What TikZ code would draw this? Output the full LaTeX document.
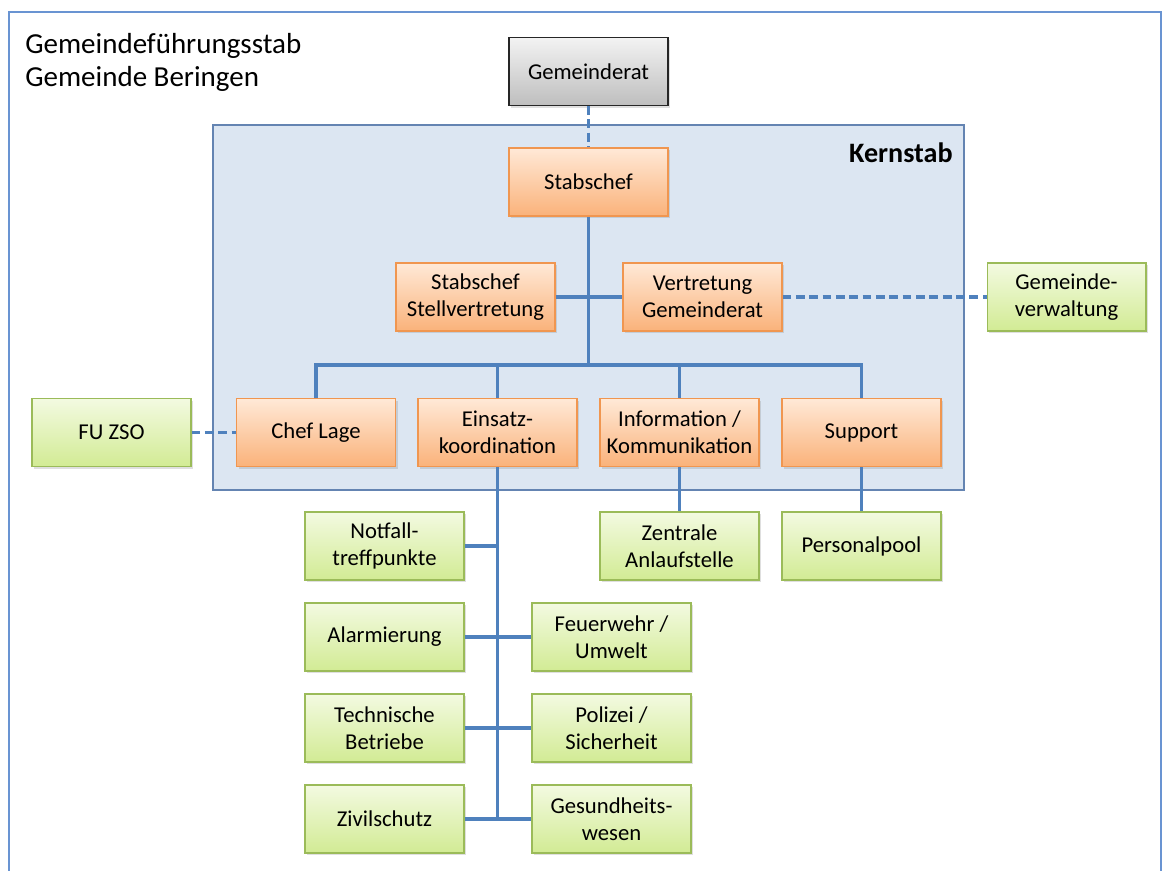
\documentclass[tikz,border=0pt]{standalone}
\usepackage{fontspec}
\setmainfont{Carlito}
\usepackage{xcolor}
\usetikzlibrary{shadows, positioning}

\definecolor{orangeTop}{RGB}{255,233,215}
\definecolor{orangeBot}{RGB}{250,178,122}
\definecolor{orangeLine}{RGB}{240,150,80}
\definecolor{greenTop}{RGB}{243,250,225}
\definecolor{greenBot}{RGB}{210,235,148}
\definecolor{greenLine}{RGB}{155,187,89}
\definecolor{grayTop}{RGB}{243,243,243}
\definecolor{grayBot}{RGB}{190,190,190}
\definecolor{lineBlue}{RGB}{79,129,189}
\definecolor{kernFill}{RGB}{220,230,242}
\definecolor{kernLine}{RGB}{100,132,178}
\definecolor{frameBlue}{RGB}{105,148,210}

\begin{document}
\begin{tikzpicture}[x=0.02cm, y=-0.02cm]
            %Block styles
            \tikzset{box/.style={rectangle, draw, line width=0.6pt, minimum width=3.18cm, minimum height=1.36cm, align=center, inner sep=1pt, font=\fontsize{12.9}{15.4}\selectfont, drop shadow={shadow xshift=1.2pt, shadow yshift=-1.2pt, opacity=0.25}}}
            \tikzset{stab/.style={box, draw=orangeLine, top color=orangeTop, bottom color=orangeBot}}
            \tikzset{ext/.style={box, draw=greenLine, top color=greenTop, bottom color=greenBot}}
            \tikzset{rat/.style={box, draw=black!85, top color=grayTop, bottom color=grayBot}}
            \tikzset{link/.style={lineBlue, line width=2.1pt}}
            \tikzset{dlink/.style={link, dash pattern=on 5pt off 2.6pt}}

            %Frame
            \clip (0,0) rectangle (1163,871);
            \fill[white] (0,0) rectangle (1163,871);
            \draw[frameBlue, line width=1.6pt] (9,12) rectangle (1161,900);
            \node[anchor=north west, inner sep=0pt, align=left, font=\fontsize{16.5}{19}\selectfont] (title) at (25,33) {Gemeindeführungsstab\\Gemeinde Beringen};

            %Kernstab area
            \draw[kernLine, fill=kernFill, line width=0.8pt] (213,125) rectangle (964,490);
            \node[anchor=base east, inner sep=0pt, font=\fontsize{16}{19}\selectfont\bfseries] (kernstab) at (953,163) {Kernstab};

            %Nodes
            \node[rat] at (588.5,71.5) (rat) {Gemeinderat};
            \node[stab] at (588.5,182) (chef) {Stabschef};
            \node[stab] at (475.5,297) (stv) {Stabschef\\Stellvertretung};
            \node[stab] at (702.5,297) (vtr) {Vertretung\\Gemeinderat};
            \node[ext] at (1066.5,297) (gv) {Gemeinde-\\verwaltung};

            \node[ext] at (111.5,432.5) (fu) {FU ZSO};
            \node[stab] at (316,432.5) (lage) {Chef Lage};
            \node[stab] at (497.5,432.5) (eins) {Einsatz-\\koordination};
            \node[stab] at (679.5,432.5) (info) {Information /\\Kommunikation};
            \node[stab] at (861.5,432.5) (supp) {Support};

            \node[ext] at (384.5,546) (notf) {Notfall-\\treffpunkte};
            \node[ext] at (679.5,546) (zas) {Zentrale\\Anlaufstelle};
            \node[ext] at (861.5,546) (pool) {Personalpool};
            \node[ext] at (384.5,637) (alarm) {Alarmierung};
            \node[ext] at (611.5,637) (fw) {Feuerwehr /\\Umwelt};
            \node[ext] at (384.5,728) (tech) {Technische\\Betriebe};
            \node[ext] at (611.5,728) (pol) {Polizei /\\Sicherheit};
            \node[ext] at (384.5,819) (ziv) {Zivilschutz};
            \node[ext] at (611.5,819) (ges) {Gesundheits-\\wesen};

            \coordinate (bus) at (588.5,365);

            %Connections
            \draw[dlink] (rat.south) -- (chef.north);
            \draw[link] (chef.south) -- (bus);
            \draw[link] (stv.east) -- (vtr.west);
            \draw[dlink] (vtr.east) -- (gv.west);
            \draw[link] (lage.north) |- (bus) -| (supp.north);
            \draw[link] (eins.north) -- (eins.north |- bus);
            \draw[link] (info.north) -- (info.north |- bus);
            \draw[dlink] (fu.east) -- (lage.west);
            \draw[link] (info.south) -- (zas.north);
            \draw[link] (supp.south) -- (pool.north);
            \draw[link] (eins.south) -- (eins.south |- ziv.east);
            \draw[link] (notf.east) -- (notf.east -| eins.south);
            \draw[link] (alarm.east) -- (fw.west);
            \draw[link] (tech.east) -- (pol.west);
            \draw[link] (ziv.east) -- (ges.west);
\end{tikzpicture}
\end{document}
